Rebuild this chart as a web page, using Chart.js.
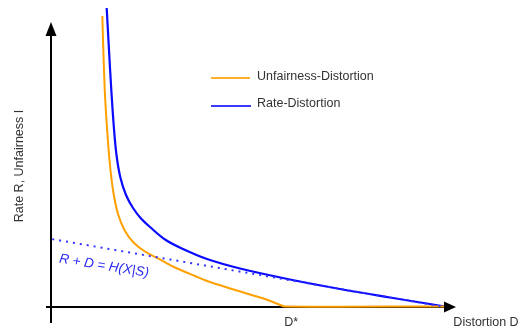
<!DOCTYPE html>
<html>
<head>
<meta charset="utf-8">
<script src="https://cdn.jsdelivr.net/npm/chart.js@4/dist/chart.umd.min.js"></script>
<style>
  html, body { margin: 0; padding: 0; background: #fff; }
</style>
</head>
<body>
<canvas id="rd-chart" width="524" height="333"></canvas>
<script>
/* Sketch of the rate / unfairness – distortion trade-off */

// Unfairness-Distortion curve (D, I)
const unfairD = [12.67, 12.96, 13.33, 13.83, 14.44, 15.31, 16.54, 18.27, 20.49, 23.21, 26.91, 30.62, 35.56, 39.26, 47.9, 52.84, 56.05, 57.78, 97.28];
const unfairI = [97.32, 84.28, 70.9, 59.87, 49.16, 39.13, 31.1, 25.42, 21.4, 18.56, 15.89, 13.21, 10.37, 8.36, 4.68, 2.68, 1.0, 0.17, 0.17];

// Rate-Distortion curve (D, R)
const rateD = [13.75, 14.32, 14.89, 15.48, 16.17, 17.16, 18.52, 20.25, 22.22, 24.44, 28.15, 32.59, 38.52, 46.67, 59.01, 71.36, 83.7, 97.28];
const rateR = [100, 85.95, 72.58, 60.87, 50.84, 43.14, 37.46, 33.11, 29.6, 26.76, 22.58, 19.4, 16.05, 12.88, 9.2, 6.02, 3.18, 0.17];

// Dotted bound R + D = H(X|S)
const boundD = [0.3, 97.3];
const boundR = [22.7, 0];

// axis extent (arrow tips), in data units
const axisXEnd = 100;
const axisYEnd = 95.3;

const ORANGE = '#ffa000';
const BLUE   = '#0a0aff';
const FONT   = "'Liberation Sans', Arial, sans-serif";

const pts = (xs, ys) => xs.map((v, i) => ({ x: v, y: ys[i] }));

const sketchAxes = {
  id: 'sketchAxes',
  beforeDatasetsDraw(chart) {
    const { ctx, scales: { x, y } } = chart;
    const x0 = x.getPixelForValue(0), y0 = y.getPixelForValue(0);
    const xEnd = x.getPixelForValue(axisXEnd), yTop = y.getPixelForValue(axisYEnd);
    ctx.save();
    ctx.strokeStyle = '#000';
    ctx.lineWidth = 2;
    ctx.beginPath();
    ctx.moveTo(x0, y0 + 16); ctx.lineTo(x0, yTop + 12);
    ctx.moveTo(x0 - 5, y0);  ctx.lineTo(xEnd - 10, y0);
    ctx.stroke();
    ctx.restore();
  },
  afterDatasetsDraw(chart) {
    const { ctx, scales: { x, y } } = chart;
    const x0 = x.getPixelForValue(0), y0 = y.getPixelForValue(0);
    const xEnd = x.getPixelForValue(axisXEnd), yTop = y.getPixelForValue(axisYEnd);
    ctx.save();
    ctx.fillStyle = '#000';
    // arrowheads
    ctx.beginPath();
    ctx.moveTo(x0, yTop); ctx.lineTo(x0 - 5.5, yTop + 14); ctx.lineTo(x0 + 5.5, yTop + 14);
    ctx.closePath(); ctx.fill();
    ctx.beginPath();
    ctx.moveTo(xEnd, y0); ctx.lineTo(xEnd - 12, y0 - 5.5); ctx.lineTo(xEnd - 12, y0 + 5.5);
    ctx.closePath(); ctx.fill();

    // axis titles
    ctx.fillStyle = '#333';
    ctx.font = '12.5px ' + FONT;
    ctx.textBaseline = 'middle';
    ctx.textAlign = 'center';
    ctx.fillText('Distortion D', 486, 323);
    ctx.fillText('D*', x.getPixelForValue(57.8) + 6, 323);
    ctx.save();
    ctx.translate(20, 166);
    ctx.rotate(-Math.PI / 2);
    ctx.fillText('Rate R, Unfairness I', 0, 0);
    ctx.restore();

    // legend
    ctx.lineWidth = 2;
    ctx.strokeStyle = '#ffb030';
    ctx.beginPath(); ctx.moveTo(211, 78); ctx.lineTo(250, 78); ctx.stroke();
    ctx.strokeStyle = '#3a3aff';
    ctx.beginPath(); ctx.moveTo(211, 106); ctx.lineTo(251, 106); ctx.stroke();
    ctx.textAlign = 'left';
    ctx.fillStyle = '#333';
    ctx.fillText('Unfairness-Distortion', 257, 77);
    ctx.fillText('Rate-Distortion', 257, 104);

    // bound label
    ctx.save();
    ctx.translate(104, 266);
    ctx.rotate(0.16);
    ctx.fillStyle = '#2a2aee';
    ctx.font = 'italic 13.5px ' + FONT;
    ctx.textAlign = 'center';
    ctx.fillText('R + D = H(X|S)', 0, 0);
    ctx.restore();
    ctx.restore();
  }
};

new Chart(document.getElementById('rd-chart'), {
  type: 'line',
  data: {
    datasets: [
      {
        label: 'R + D = H(X|S)',
        data: pts(boundD, boundR),
        borderColor: '#3535ff',
        borderWidth: 2,
        borderDash: [2, 5],
        pointRadius: 0,
        tension: 0,
        clip: false
      },
      {
        label: 'Unfairness-Distortion',
        data: pts(unfairD, unfairI),
        borderColor: ORANGE,
        borderWidth: 2,
        pointRadius: 0,
        tension: 0.35,
        clip: false
      },
      {
        label: 'Rate-Distortion',
        data: pts(rateD, rateR),
        borderColor: BLUE,
        borderWidth: 2.2,
        pointRadius: 0,
        tension: 0.35,
        clip: false
      }
    ]
  },
  options: {
    responsive: false,
    animation: false,
    layout: { padding: { left: 51, right: 68, top: 8, bottom: 26 } },
    plugins: { legend: { display: false }, tooltip: { enabled: false } },
    scales: {
      x: { type: 'linear', min: 0, max: 100, display: false },
      y: { type: 'linear', min: 0, max: 100, display: false }
    }
  },
  plugins: [sketchAxes]
});
</script>
</body>
</html>
